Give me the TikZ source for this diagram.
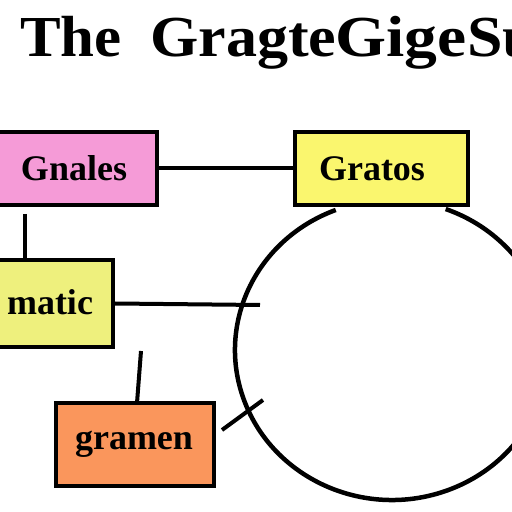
\documentclass[tikz,border=0pt]{standalone}
\usepackage{fontspec}
\setmainfont{Liberation Serif}
\definecolor{pinkbox}{RGB}{245,155,215}
\definecolor{yellowbox}{RGB}{250,246,110}
\definecolor{limebox}{RGB}{238,240,125}
\definecolor{orangebox}{RGB}{250,150,92}
\tikzset{
  box/.style={draw=black, line width=4pt, inner sep=0pt},
  boxtext/.style={inner sep=0pt, font=\fontsize{36}{40}\selectfont\bfseries},
  conn/.style={draw=black, line width=4pt},
  titletext/.style={anchor=base west, inner sep=0pt, font=\fontsize{58}{60}\selectfont\bfseries}
}
\begin{document}
\begin{tikzpicture}[x=1pt,y=1pt]
\useasboundingbox (0,0) rectangle (512,512);
\clip (0,0) rectangle (512,512);
\fill[white] (0,0) rectangle (512,512);
% title
\node[titletext, xscale=1.05] (t1) at (20,455) {The};
\node[titletext, xscale=1.07] (t2) at (150,455) {Gragte};
\node[titletext, xscale=1.13] (t3) at (335,455) {Gige};
\node[titletext, xscale=1.1] (t4) at (467,455) {Su};
% boxes
\node[box, fill=pinkbox, minimum width=162pt, minimum height=73pt] (pink) at (76,343.5) {};
\node[boxtext] (pinktext) at (74,343.5) {Gnales};
\node[box, fill=yellowbox, minimum width=173pt, minimum height=73pt] (yellow) at (381.5,343.5) {};
\node[boxtext] (yellowtext) at (372,343.5) {Gratos};
\node[box, fill=limebox, minimum width=118pt, minimum height=87pt] (lime) at (54,208.5) {};
\node[boxtext, anchor=base] (limetext) at (50,197) {matic};
\node[box, fill=orangebox, minimum width=158pt, minimum height=83pt] (orange) at (135,67.5) {};
\node[boxtext] (orangetext) at (134,68) {gramen};
% circle
\coordinate (cc) at (392,162);
\draw[conn, line width=4.5pt] (cc) ++(111:157 and 150) arc[start angle=111, end angle=430, x radius=157, y radius=150];
% connectors
\coordinate (v1) at (25,298);
\coordinate (c2) at (260,207);
\coordinate (c3) at (141,161);
\coordinate (o3) at (137,109);
\coordinate (d1) at (222,82);
\coordinate (d2) at (263,112);
\draw[conn] (pink.east) -- (yellow.west);
\draw[conn] (v1) -- (v1 |- lime.north);
\draw[conn] (lime.east) -- (c2);
\draw[conn] (c3) -- (o3);
\draw[conn] (d1) -- (d2);
\end{tikzpicture}
\end{document}
